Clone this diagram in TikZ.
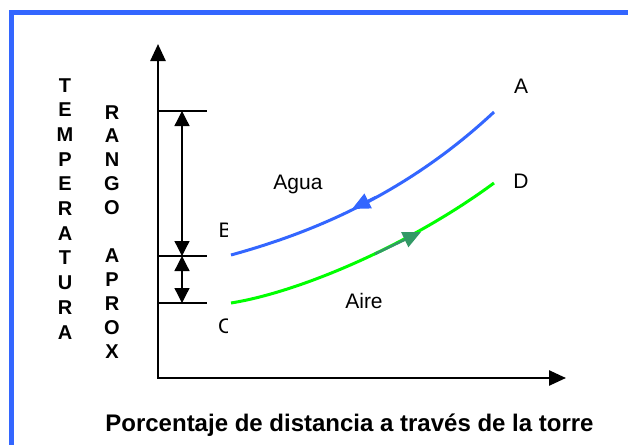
\documentclass[tikz,border=0pt]{standalone}
\usepackage{fontspec}
\setmainfont{Liberation Sans}
\usetikzlibrary{arrows.meta}

\definecolor{aguablue}{RGB}{51,102,255}
\definecolor{airegreen}{RGB}{0,255,0}
\definecolor{airedark}{RGB}{51,153,102}

\tikzset{
  lbl/.style={font=\fontsize{21}{25}\selectfont, inner sep=0},
  vlet/.style={font=\fontsize{20}{24}\selectfont\bfseries, inner sep=0, anchor=base},
  axis/.style={line width=2.5pt, {Triangle[length=17pt,width=15pt]}-{Triangle[length=17pt,width=15pt]}},
  tick/.style={line width=1.5pt},
  rango/.style={line width=1.3pt, {Triangle[length=15pt,width=15pt]}-{Triangle[length=15pt,width=15pt]}},
  agua/.style={aguablue, line width=3pt},
  aire/.style={airegreen, line width=3pt},
  flecha/.style={line width=2.5pt, -{Triangle[length=18pt,width=16pt]}},
}

\begin{document}
\begin{tikzpicture}[x=1pt,y=-1pt]

\useasboundingbox (0,0) rectangle (628,444);
\clip (0,0) rectangle (628,444);

%%%%%% Marco %%%%%%%
\draw[aguablue, line width=5pt] (11.5,470) -- (11.5,12.5) -- (650,12.5);

%%%%%% Ejes %%%%%%%
\coordinate (origin) at (158,378);
\coordinate (ytop) at (158,44);
\coordinate (xend) at (566,378);
\draw[axis] (ytop) -- (origin) -- (xend);

\coordinate (t1) at (158,111);
\coordinate (t2) at (158,256);
\coordinate (t3) at (158,303);
\draw[tick] (t1) -- ++(49,0);
\draw[tick] (t2) -- ++(49,0);
\draw[tick] (t3) -- ++(49,0);

\coordinate (r1) at (182,111);
\coordinate (r2) at (182,256);
\coordinate (r3) at (182,303);
\draw[rango] (r1) -- (r2);
\draw[rango] (r2) -- (r3);

%%%%%% Curvas %%%%%%%
\coordinate (B) at (231,255);
\coordinate (A) at (494,112);
\coordinate (C) at (231,303);
\coordinate (D) at (494,183);

\draw[agua] (B) .. controls (300,236) and (400,200) .. (A);
\draw[aire] (C) .. controls (300,292) and (410,245) .. (D);

\coordinate (b1) at (376,197);
\coordinate (b2) at (352,209);
\draw[flecha, aguablue] (b1) -- (b2);

\coordinate (g1) at (375,254);
\coordinate (g2) at (421,232);
\draw[flecha, airedark] (g1) -- (g2);

%%%%%% Etiquetas %%%%%%%
\node[lbl] (la) at (521,86) {A};
\node[lbl] (ld) at (521,181) {D};
\node[lbl, anchor=base] (agua) at (298,189) {Agua};
\node[lbl, anchor=base] (aire) at (364,308) {Aire};

\begin{scope}
\clip (205,210) rectangle (227,345);
\node[lbl, anchor=base west] (lb) at (218.5,237) {B};
\node[lbl, anchor=base west] (lc) at (218,333) {C};
\end{scope}

\foreach \l [count=\i from 0] in {T,E,M,P,E,R,A,T,U,R,A}
  \node[vlet] (temp\i) at (65,92+24.7*\i) {\l};
\foreach \l [count=\i from 0] in {R,A,N,G,O}
  \node[vlet] (rango\i) at (112,119+23.9*\i) {\l};
\foreach \l [count=\i from 6] in {A,P,R,O,X}
  \node[vlet] (aprox\i) at (112,119+23.9*\i) {\l};

\node[font=\fontsize{24}{28}\selectfont\bfseries, inner sep=0, anchor=base] (xlabel)
  at (349.5,431) {Porcentaje de distancia a través de la torre};

\end{tikzpicture}
\end{document}
